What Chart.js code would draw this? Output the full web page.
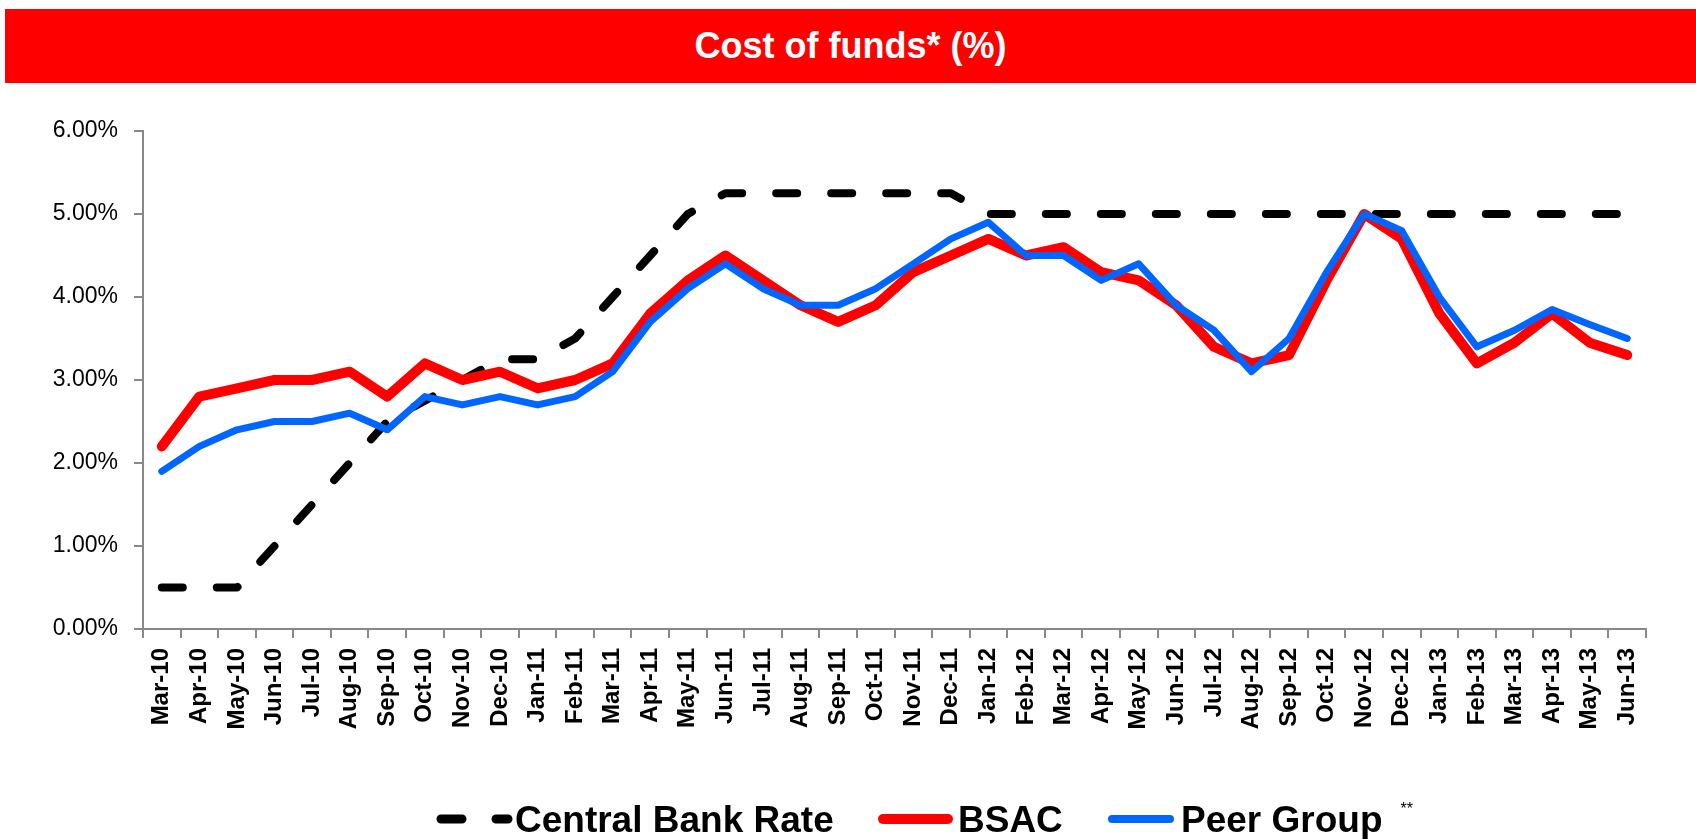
<!DOCTYPE html>
<html>
<head>
<meta charset="utf-8">
<title>Cost of funds</title>
<script src="https://cdn.jsdelivr.net/npm/chart.js@4"></script>
<style>
  html, body { margin: 0; padding: 0; background: #fff; }
  #wrap { position: relative; width: 1696px; height: 839px; }
  #header {
    position: absolute; left: 5px; top: 9px; width: 1691px; height: 74px;
    background: #ff0000; color: #fff;
    font: bold 36px "Liberation Sans", Arial, sans-serif;
    display: flex; align-items: center; justify-content: center;
  }
  #costChart { position: absolute; left: 0; top: 0; }
</style>
</head>
<body>
<div id="wrap">
  <canvas id="costChart" width="1696" height="839"></canvas>
  <div id="header">Cost of funds* (%)</div>
</div>
<script>
// Monthly labels, Mar-10 .. Jun-13
const months = [
  'Mar-10', 'Apr-10', 'May-10', 'Jun-10', 'Jul-10', 'Aug-10', 'Sep-10', 'Oct-10', 'Nov-10', 'Dec-10',
  'Jan-11', 'Feb-11', 'Mar-11', 'Apr-11', 'May-11', 'Jun-11', 'Jul-11', 'Aug-11', 'Sep-11', 'Oct-11', 'Nov-11', 'Dec-11',
  'Jan-12', 'Feb-12', 'Mar-12', 'Apr-12', 'May-12', 'Jun-12', 'Jul-12', 'Aug-12', 'Sep-12', 'Oct-12', 'Nov-12', 'Dec-12',
  'Jan-13', 'Feb-13', 'Mar-13', 'Apr-13', 'May-13', 'Jun-13',
];

// Rates in percent
const centralBankRate = [
  0.5, 0.5, 0.5, 1.0, 1.5, 2.0, 2.5, 2.75, 3.0, 3.25,
  3.25, 3.5, 4.0, 4.5, 5.0, 5.25, 5.25, 5.25, 5.25, 5.25, 5.25, 5.25,
  5.0, 5.0, 5.0, 5.0, 5.0, 5.0, 5.0, 5.0, 5.0, 5.0, 5.0, 5.0,
  5.0, 5.0, 5.0, 5.0, 5.0, 5.0,
];

const bsac = [
  2.2, 2.8, 2.9, 3.0, 3.0, 3.1, 2.8, 3.2, 3.0, 3.1,
  2.9, 3.0, 3.2, 3.8, 4.2, 4.5, 4.2, 3.9, 3.7, 3.9, 4.3, 4.5,
  4.7, 4.5, 4.6, 4.3, 4.2, 3.9, 3.4, 3.2, 3.3, 4.2, 5.0, 4.7,
  3.8, 3.2, 3.45, 3.8, 3.45, 3.3,
];

const peerGroup = [
  1.9, 2.2, 2.4, 2.5, 2.5, 2.6, 2.4, 2.8, 2.7, 2.8,
  2.7, 2.8, 3.1, 3.7, 4.1, 4.4, 4.1, 3.9, 3.9, 4.1, 4.4, 4.7,
  4.9, 4.5, 4.5, 4.2, 4.4, 3.9, 3.6, 3.1, 3.5, 4.3, 5.0, 4.8,
  4.0, 3.4, 3.6, 3.85, 3.67, 3.5,
];

const AXIS_GREY = '#888888';
const FONT = '"Liberation Sans", Arial, sans-serif';

// Legend laid out by hand: sample line from x0 to x1, then the label
const legendLayout = [
  { x0: 441, x1: 508, textX: 515 },
  { x0: 883, x1: 948, textX: 958 },
  { x0: 1112, x1: 1170, textX: 1181 },
];

const bottomLegend = {
  id: 'bottomLegend',
  afterDraw(chart) {
    const { ctx } = chart;
    const lineY = 819;
    chart.data.datasets.forEach((ds, i) => {
      const pos = legendLayout[i];
      ctx.save();
      ctx.strokeStyle = ds.borderColor;
      ctx.lineWidth   = ds.legendWidth;
      ctx.lineCap     = 'round';
      ctx.setLineDash(ds.borderDash || []);
      ctx.beginPath();
      ctx.moveTo(pos.x0, lineY);
      ctx.lineTo(pos.x1, lineY);
      ctx.stroke();
      ctx.restore();

      ctx.save();
      ctx.fillStyle    = '#000';
      ctx.font         = `bold 37px ${FONT}`;
      ctx.textBaseline = 'alphabetic';
      ctx.textAlign    = 'left';
      ctx.fillText(ds.label, pos.textX, 832);
      if (ds.note) {
        const w = ctx.measureText(ds.label).width;
        ctx.font = `16px ${FONT}`;
        ctx.fillText(ds.note, pos.textX + w + 18, 814);
      }
      ctx.restore();
    });
  },
};

new Chart(document.getElementById('costChart'), {
  type: 'line',
  data: {
    labels: months,
    datasets: [
      {
        label:          'Central Bank Rate',
        data:           centralBankRate,
        borderColor:    '#000000',
        borderWidth:    8,
        legendWidth:    9,
        borderDash:     [21, 34],
        borderCapStyle: 'round',
        borderJoinStyle: 'round',
        pointRadius:    0,
        tension:        0,
        order:          3,
      },
      {
        label:          'BSAC',
        data:           bsac,
        borderColor:    '#ff0000',
        borderWidth:    10,
        legendWidth:    10,
        borderCapStyle: 'round',
        borderJoinStyle: 'round',
        pointRadius:    0,
        tension:        0,
        order:          2,
      },
      {
        label:          'Peer Group',
        note:           '**',
        data:           peerGroup,
        borderColor:    '#0066ff',
        borderWidth:    7,
        legendWidth:    8,
        borderCapStyle: 'round',
        borderJoinStyle: 'round',
        pointRadius:    0,
        tension:        0,
        order:          1,
      },
    ],
  },
  options: {
    responsive:          false,
    animation:           false,
    devicePixelRatio:    1,
    layout: { padding: { top: 131, right: 50, bottom: 0, left: 0 } },
    plugins: {
      legend:  { display: false },
      tooltip: { enabled: false },
      title:   { display: false },
    },
    scales: {
      x: {
        offset: true,
        grid: {
          offset:          true,
          drawOnChartArea: false,
          drawTicks:       true,
          tickLength:      9,
          color:           AXIS_GREY,
          lineWidth:       2,
        },
        border: { color: AXIS_GREY, width: 2 },
        ticks: {
          autoSkip:    false,
          minRotation: 90,
          maxRotation: 90,
          padding:     10,
          color:       '#000',
          font:        { family: FONT, size: 24, weight: 'bold' },
        },
        afterFit: (scale) => { scale.height = 210; },
      },
      y: {
        min: 0,
        max: 6,
        grid: {
          drawOnChartArea: false,
          drawTicks:       true,
          tickLength:      9,
          color:           AXIS_GREY,
          lineWidth:       2,
        },
        border: { color: AXIS_GREY, width: 2 },
        ticks: {
          stepSize: 1,
          padding:  16,
          color:    '#000',
          font:     { family: FONT, size: 23 },
          callback: (v) => v.toFixed(2) + '%',
        },
        afterFit: (scale) => { scale.width = 143; },
      },
    },
  },
  plugins: [bottomLegend],
});
</script>
</body>
</html>
